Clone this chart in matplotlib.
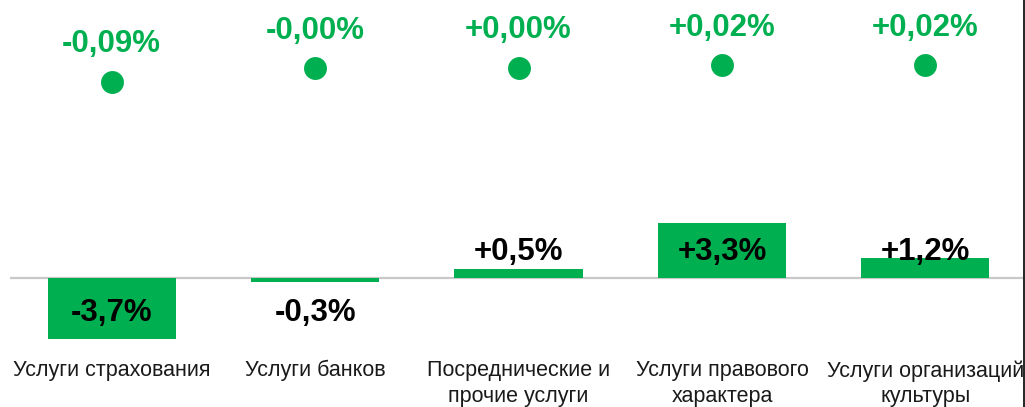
import matplotlib
matplotlib.use("Agg")
import matplotlib.pyplot as plt
import matplotlib.transforms as mtransforms
from matplotlib.lines import Line2D

plt.rcParams['font.family'] = ['Liberation Sans', 'DejaVu Sans']

categories = ["Услуги страхования", "Услуги банков", "Посреднические и\nпрочие услуги",
              "Услуги правового\nхарактера", "Услуги организаций\nкультуры"]
bar_values = [-3.7, -0.3, 0.5, 3.3, 1.2]
bar_labels = ["-3,7%", "-0,3%", "+0,5%", "+3,3%", "+1,2%"]
dot_values = [-0.09, -0.001, 0.001, 0.02, 0.02]
dot_labels = ["-0,09%", "-0,00%", "+0,00%", "+0,02%", "+0,02%"]

GREEN = "#00B050"
W, H = 1025, 407
fig = plt.figure(figsize=(W / 100, H / 100), dpi=100)
fig.patch.set_facecolor("white")

ax = fig.add_axes([10 / W, 0, (1023 - 10) / W, 1])
ax.set_xlim(-0.5, 4.48)
base_from_bottom = H - 277.5
bar_scale = 16.6
ax.set_ylim(-base_from_bottom / bar_scale, (H - base_from_bottom) / bar_scale)
ax.axis("off")

x = list(range(len(categories)))
ax.bar(x, bar_values, width=0.63, color=GREEN, zorder=2)
ax.axhline(0, color="#C8C8C8", lw=1.6, zorder=1)

for xi, v, lab in zip(x, bar_values, bar_labels):
    off = 18.3 if v >= 0 else -25.6
    ax.annotate(lab, (xi, 0), xytext=(0, off), textcoords="offset points",
                ha="center", va="center", fontsize=22.5, fontweight="bold",
                color="black", zorder=3)

ax2 = ax.twinx()
dot_zero = H - 68.3
dot_scale = 149.0
ax2.set_ylim(-dot_zero / dot_scale, (H - dot_zero) / dot_scale)
ax2.axis("off")
ax2.plot(x, dot_values, linestyle="none", marker="o", markersize=16.5,
         color=GREEN, markeredgewidth=0)
for xi, v, lab in zip(x, dot_values, dot_labels):
    ax2.annotate(lab, (xi, v), xytext=(0, 27.2), textcoords="offset points",
                 ha="center", va="center", fontsize=22.5, fontweight="bold",
                 color=GREEN)

trans = mtransforms.blended_transform_factory(ax.transData, fig.transFigure)
for xi, c in zip(x, categories):
    ax.text(xi, 1 - 360 / H, c, transform=trans, ha="center", va="top",
            fontsize=15.5, color="#1A1A1A", linespacing=1.3, clip_on=False)

fig.add_artist(Line2D([1023.5 / W, 1023.5 / W], [0, 1], color="black", lw=1.2,
                      transform=fig.transFigure))

fig.savefig("out.png", dpi=100)
